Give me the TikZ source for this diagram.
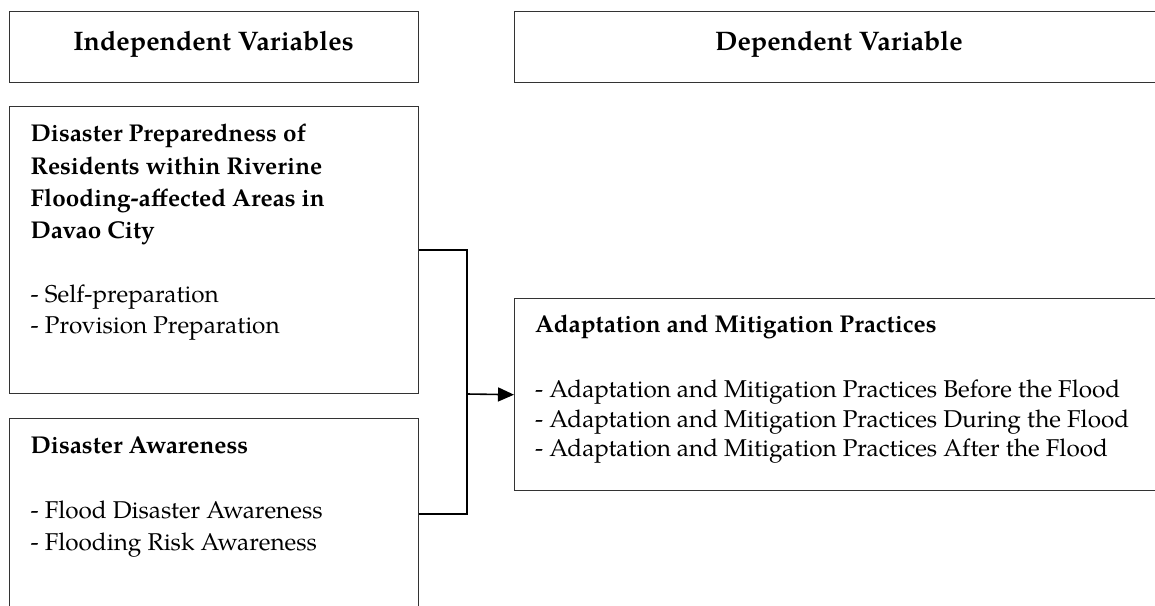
\documentclass[tikz,border=0pt]{standalone}
\usepackage{fontspec}
\setmainfont{texgyrepagella}[Extension=.otf, UprightFont=*-regular, BoldFont=*-bold, ItalicFont=*-italic, BoldItalicFont=*-bolditalic]
\usetikzlibrary{arrows.meta}
\tikzset{
  box/.style={draw=black!80, line width=1.4pt, inner sep=0pt, anchor=north west},
  txt/.style={anchor=base west, inner sep=0pt, font=\fontsize{24.3}{30}\selectfont},
  btxt/.style={anchor=base west, inner sep=0pt, font=\fontsize{24.3}{30}\selectfont\bfseries},
  htxt/.style={anchor=base, inner sep=0pt, font=\fontsize{26.8}{32}\selectfont\bfseries},
  conn/.style={draw=black, line width=1.6pt},
}
\begin{document}
\begin{tikzpicture}[x=1pt,y=-1pt]
\clip (0,0) rectangle (1155,605);
\fill[white] (0,0) rectangle (1155,605);
% header boxes
\node[box, minimum width=409pt, minimum height=71pt] (iv) at (9,10.5) {};
\node[box, minimum width=650pt, minimum height=71pt] (dv) at (514,10.5) {};
\node[htxt] (ivt) at (213.5,50) {Independent Variables};
\node[htxt] (dvt) at (839,50) {Dependent Variable};
% box 3
\node[box, minimum width=409pt, minimum height=287pt] (pp) at (9,106) {};
\node[btxt] (pp1) at (30.5,141) {Disaster Preparedness of};
\node[btxt] (pp2) at (30.5,174) {Residents within Riverine};
\node[btxt] (pp3) at (30.5,206.5) {Flooding-affected Areas in};
\node[btxt] (pp4) at (30.5,238.5) {Davao City};
\node[txt] (pp5) at (30.5,302) {- Self-preparation};
\node[txt] (pp6) at (30.5,333.5) {- Provision Preparation};
% box 4
\node[box, minimum width=409pt, minimum height=190pt] (da) at (9,418) {};
\node[btxt] (da1) at (30.5,453) {Disaster Awareness};
\node[txt] (da2) at (30.5,518) {- Flood Disaster Awareness};
\node[txt] (da3) at (30.5,550) {- Flooding Risk Awareness};
% box 5
\node[box, minimum width=650pt, minimum height=192pt] (am) at (514,298) {};
\node[btxt] (am1) at (535,332) {Adaptation and Mitigation Practices};
\node[txt] (am2) at (535,397) {- Adaptation and Mitigation Practices Before the Flood};
\node[txt] (am3) at (535,427) {- Adaptation and Mitigation Practices During the Flood};
\node[txt] (am4) at (535,456.5) {- Adaptation and Mitigation Practices After the Flood};
% connectors
\coordinate (jn) at (467,394);
\draw[conn] (pp.east) -| (jn) |- (da.east);
\draw[conn, -{Triangle[length=16pt,width=14pt]}] (jn) -- (am.west);
\end{tikzpicture}
\end{document}
